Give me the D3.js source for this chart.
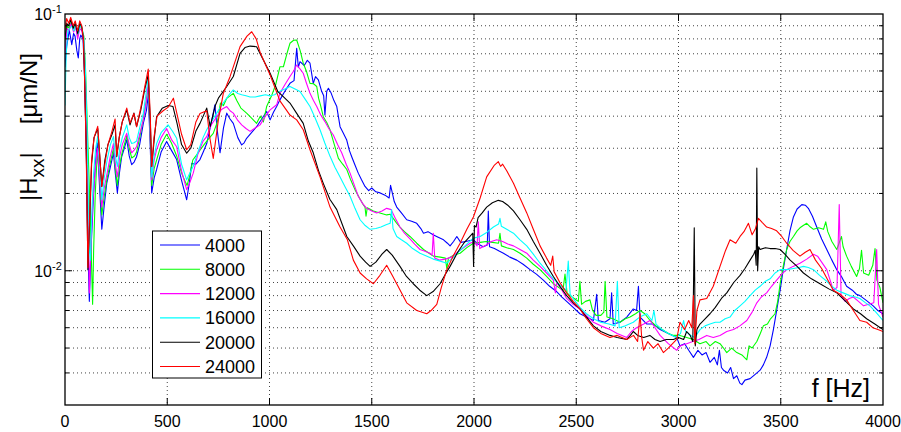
<!DOCTYPE html>
<html>
<head>
<meta charset="utf-8">
<script src="https://cdnjs.cloudflare.com/ajax/libs/d3/7.8.5/d3.min.js"></script>
<style>
  html, body { margin: 0; padding: 0; background: #fff; }
  svg text { font-family: "Liberation Sans", Arial, Helvetica, sans-serif; fill: #000; }
</style>
</head>
<body>
<div id="chart"></div>
<script>
// FRF magnitude |Hxx| vs frequency, one curve per spindle speed
// values are [frequency Hz, |Hxx| in 1e-3 um/N]

const seriesNames = ["4000", "8000", "12000", "16000", "20000", "24000"];
const seriesColors = ["#0000ff", "#00ff00", "#ff00ff", "#00ffff", "#000000", "#ff0000"];

const xTicks = [0, 500, 1000, 1500, 2000, 2500, 3000, 3500, 4000];
const yDecades = [{ v: 0.1, exp: "-1" }, { v: 0.01, exp: "-2" }];

const h4000 = [[0,62],[8,74.6],[21,86.6],[33,76],[42,84],[49,82],[58,72],[65,67.4],[72,80],[77,82.8],[88,80],[95,60],[104,30],[112,12],[119,7.6],[127,12],[139,19.5],[150,27],[158,31.5],[168,22],[180,14.5],[192,18],[204,21.9],[220,25],[237,28.8],[246,24],[256,20.1],[266,24],[277,27.8],[290,30],[302,32.4],[314,28],[326,25.9],[338,26.5],[350,27.8],[365,31],[383,37.5],[398,42],[407,48],[416,32],[424,20.1],[436,23],[448,24.8],[470,29],[497,31.9],[520,29.5],[546,27.1],[570,22.5],[595,18.9],[608,22],[620,26.2],[640,26],[660,27.1],[676,29],[693,31.3],[713,37],[733,44.3],[745,35],[758,28.8],[775,36],[791,41.1],[807,39],[823,37.5],[845,33],[864,30.9],[876,31.5],[888,32.8],[912,34.5],[937,36.4],[962,39],[986,41.7],[1003,38.7],[1020,41.5],[1035,43.6],[1051,46.3],[1075,50],[1100,53.7],[1120,55],[1133,73.5],[1141,62],[1149,65.2],[1170,63],[1185,66],[1198,64.3],[1214,53.7],[1225,57],[1239,55.4],[1255,50],[1265,48],[1271,40.4],[1280,50],[1288,51.4],[1300,49.5],[1315,46],[1329,43.6],[1345,36.4],[1360,34.5],[1377,32.4],[1390,29.5],[1402,27.8],[1418,25.8],[1434,24.0],[1450,22.6],[1467,21.3],[1485,20.5],[1500,21],[1520,20.3],[1541,20.1],[1565,19.7],[1585,19.2],[1592,21.5],[1598,20.5],[1610,18.6],[1622,17.7],[1645,16.8],[1671,15.8],[1695,15.6],[1720,15.3],[1740,14.6],[1753,14.0],[1775,14.2],[1800,13.8],[1825,13.5],[1851,13.2],[1870,12.8],[1883,12.5],[1900,13.0],[1916,13.6],[1935,12.9],[1960,13.0],[1997,13.2],[2020,12.7],[2045,12.4],[2065,12.6],[2070,17.1],[2076,12.4],[2100,12.2],[2125,11.9],[2144,11.7],[2175,11.3],[2209,11.0],[2240,10.6],[2274,10.1],[2305,9.7],[2339,9.2],[2370,8.7],[2404,8.3],[2430,7.9],[2453,7.6],[2485,7.2],[2518,6.8],[2550,6.6],[2584,6.4],[2600,8.1],[2608,6.4],[2640,6.3],[2665,6.5],[2673,8.2],[2681,6.2],[2714,6.3],[2747,6.6],[2779,7.1],[2795,7.0],[2804,8.7],[2812,6.6],[2845,6.2],[2877,6.2],[2910,5.9],[2950,5.7],[2991,5.5],[3007,5.1],[3030,5.2],[3050,4.9],[3073,4.6],[3095,4.9],[3115,4.7],[3135,4.8],[3154,4.4],[3175,4.6],[3190,4.3],[3200,4.9],[3210,4.2],[3220,4.1],[3240,4.0],[3255,4.2],[3269,3.8],[3285,3.9],[3300,3.65],[3310,3.6],[3325,3.75],[3350,3.8],[3375,3.95],[3399,4.1],[3415,4.3],[3431,4.6],[3448,5.1],[3464,5.9],[3480,7.0],[3497,8.4],[3513,10.2],[3529,12.1],[3545,14.3],[3562,16.2],[3580,17.4],[3603,18.1],[3620,18.0],[3635,17.5],[3655,16.3],[3676,14.8],[3700,13.3],[3725,12.1],[3750,11.0],[3774,10.1],[3800,9.4],[3822,8.7],[3850,8.4],[3870,8.1],[3887,8.0],[3915,7.7],[3952,7.3],[3975,7.0],[4000,6.8]];

const h8000 = [[0,75],[10,90],[20,88],[30,93],[42,86],[52,90],[62,82],[72,90],[82,88],[92,82],[100,62],[110,35],[120,20],[128,12],[135,7.4],[140,12],[148,20],[158,29],[168,24],[180,16.5],[192,19.5],[204,22.5],[220,26],[237,30],[246,25],[256,21.5],[268,26],[280,29],[302,33.5],[314,30],[326,27.5],[340,28],[350,29],[365,33],[383,39],[398,46],[407,52],[416,35],[424,21.5],[436,25],[448,27],[470,31],[497,34],[520,31.5],[546,28],[570,24],[587,22.3],[597,21.5],[610,23.5],[625,27],[640,28],[660,29.5],[680,31],[700,32.5],[725,34.3],[745,38],[760,45],[775,44],[791,47],[807,48],[823,49.1],[840,46],[860,43],[888,41.1],[910,39.5],[937,37.5],[955,40],[970,38],[986,43.6],[1010,48],[1030,53],[1051,62.3],[1068,62.3],[1085,70],[1100,76.9],[1118,79],[1133,79.2],[1150,72],[1165,64.3],[1180,60],[1198,53.7],[1215,53.5],[1231,52.2],[1240,47],[1250,44],[1263,39.8],[1280,37.8],[1296,35.4],[1317,31],[1337,27.4],[1358,26],[1378,24.8],[1398,22.5],[1418,20.7],[1440,19.2],[1460,18],[1467,17.7],[1472,16.3],[1478,17.6],[1490,17.4],[1508,17.1],[1540,16.8],[1573,16.5],[1590,16.6],[1605,16.0],[1620,15.4],[1638,14.8],[1660,14.2],[1687,13.6],[1720,12.8],[1753,12.1],[1780,11.7],[1801,11.4],[1835,11.3],[1860,11.2],[1867,10.2],[1875,11.2],[1900,11.5],[1932,11.7],[1965,12.3],[1997,12.8],[2030,12.9],[2060,13.0],[2090,12.9],[2120,12.8],[2127,14.0],[2134,12.5],[2160,12.3],[2193,12.1],[2225,11.7],[2258,11.2],[2290,10.6],[2323,10.1],[2355,9.5],[2388,8.9],[2415,8.6],[2435,8.4],[2445,9.7],[2455,8.2],[2469,8.0],[2490,7.8],[2510,7.6],[2518,9.1],[2526,7.4],[2545,7.6],[2567,7.7],[2580,7.0],[2597,6.7],[2620,6.7],[2635,6.9],[2641,9.1],[2650,6.6],[2680,6.5],[2714,6.3],[2740,6.5],[2763,6.6],[2790,6.8],[2812,7.0],[2835,6.8],[2861,6.4],[2890,6.1],[2920,5.9],[2950,5.7],[2975,5.6],[3007,5.6],[3040,5.5],[3073,5.4],[3105,5.2],[3135,5.3],[3154,5.1],[3180,5.3],[3203,5.2],[3220,5.0],[3236,4.8],[3260,5.0],[3285,4.8],[3310,4.7],[3334,4.5],[3345,5.1],[3360,5.0],[3383,5.3],[3400,5.7],[3415,6.1],[3435,6.2],[3450,6.5],[3472,6.8],[3485,7.6],[3497,8.9],[3513,10.5],[3529,12.1],[3545,13.0],[3562,13.6],[3580,14.3],[3594,14.7],[3610,15.0],[3627,15.3],[3645,14.8],[3660,14.5],[3685,14.7],[3709,14.5],[3720,15.5],[3730,14.2],[3750,13.0],[3774,12.1],[3785,12.8],[3797,13.6],[3805,12.4],[3822,11.4],[3845,10.4],[3871,9.5],[3885,10.2],[3895,12.0],[3905,9.8],[3930,9.6],[3950,10.5],[3961,12.2],[3970,9.2],[3985,8.6],[4000,7.5]];

const h12000 = [[0,70],[10,88],[20,86],[30,92],[42,85],[52,89],[62,80],[72,88],[82,86],[92,78],[100,55],[108,30],[115,14],[119,8.2],[126,12],[135,18],[148,25],[158,30],[168,24],[180,17.7],[192,21],[206,24],[222,28],[237,31.3],[246,26],[256,23.2],[268,28],[280,31],[302,34.3],[314,31],[326,28.8],[338,29.5],[350,30.4],[365,34],[383,38.7],[398,46],[407,53.7],[416,35],[424,22.6],[436,27],[448,29.6],[470,33],[497,35.8],[520,32.5],[546,30.4],[570,24.5],[595,20.7],[610,22],[627,24],[650,28.5],[675,32],[693,33.3],[715,37],[742,39.8],[765,42.5],[791,43.6],[807,42],[823,41.1],[845,38.5],[864,37],[885,35.8],[905,34.9],[930,36],[954,37],[980,40],[1003,42.3],[1035,44.3],[1051,49.1],[1075,53],[1100,57.1],[1118,60],[1133,63.3],[1150,61],[1165,58.8],[1180,54],[1198,49.1],[1215,46],[1231,43.6],[1250,40.5],[1271,38.1],[1290,35.8],[1312,33.8],[1333,31],[1353,28.8],[1375,26],[1394,24.0],[1415,21.5],[1434,19.5],[1455,18.3],[1475,17.5],[1500,17.1],[1524,16.8],[1550,17.1],[1573,17.5],[1595,17.3],[1615,16],[1638,14.8],[1660,14],[1687,13.3],[1710,12.7],[1736,12.1],[1760,11.9],[1785,11.7],[1795,11.5],[1801,14.0],[1808,11.2],[1830,11.0],[1860,11.1],[1890,11.3],[1920,11.8],[1950,12.3],[1981,12.8],[2000,13.0],[2015,12.5],[2021,15.5],[2028,12.2],[2060,12.6],[2085,13.0],[2111,13.2],[2140,13.0],[2165,12.7],[2193,12.5],[2225,12.1],[2258,11.7],[2290,11.0],[2323,10.4],[2355,9.8],[2388,9.2],[2398,8.2],[2405,9.0],[2430,8.4],[2453,7.8],[2485,7.4],[2518,7.1],[2550,6.7],[2584,6.3],[2620,6.1],[2665,5.9],[2700,5.7],[2747,5.5],[2770,5.8],[2795,6.0],[2830,6.2],[2861,6.4],[2885,6.0],[2910,5.6],[2950,5.2],[2991,4.9],[3010,5.1],[3040,5.2],[3070,5.3],[3100,5.4],[3138,5.6],[3170,5.5],[3203,5.6],[3236,5.8],[3269,5.9],[3300,6.1],[3334,6.4],[3360,6.9],[3383,7.5],[3405,7.9],[3431,8.2],[3455,8.7],[3480,9.2],[3505,9.7],[3529,10.1],[3560,10.4],[3594,10.7],[3627,11.1],[3660,11.6],[3680,11.4],[3700,10.8],[3725,10.1],[3745,9.0],[3757,8.4],[3775,8.6],[3786,18.1],[3795,8.0],[3815,7.6],[3835,7.8],[3855,7.9],[3880,7.6],[3905,7.3],[3930,7.4],[3955,7.5],[3969,12.1],[3978,7.4],[4000,6.6]];

const h16000 = [[0,44],[6,70],[14,86],[24,88],[34,90],[44,86],[54,91],[64,84],[74,90],[84,88],[92,80],[100,60],[108,35],[114,20],[119,12],[124,11],[130,16],[140,24],[150,30],[160,33.3],[170,25.5],[180,18.9],[192,23],[206,27],[222,31],[237,33.3],[246,28],[256,25.5],[268,30],[280,33],[302,37],[314,33],[326,31.3],[338,31.5],[350,32],[365,36],[383,41.1],[398,50],[407,57.1],[416,38],[424,23.2],[436,28],[448,31.3],[470,34.5],[504,37],[525,35],[546,32.8],[570,26],[595,22.6],[610,24],[627,25.5],[650,29],[675,33],[693,35.4],[715,38],[742,41.1],[765,44],[791,47],[807,49],[823,50.6],[845,49],[864,48.5],[885,48],[905,47.5],[930,47.5],[954,48],[980,48.5],[1003,48],[1025,48.5],[1051,50],[1075,51],[1100,52.2],[1125,51],[1149,49.9],[1175,46.5],[1198,43.6],[1222,39.5],[1247,35.4],[1270,31.5],[1296,27.9],[1320,25.3],[1345,23.2],[1370,21.2],[1394,19.5],[1418,17.5],[1443,15.8],[1468,15.0],[1492,14.5],[1520,14.6],[1545,14.8],[1570,15.1],[1590,15.3],[1597,17.3],[1604,14.6],[1622,13.6],[1645,13.2],[1671,12.8],[1700,12.2],[1736,11.7],[1770,11.4],[1801,11.1],[1835,10.9],[1867,10.7],[1900,11.3],[1932,12.0],[1965,12.7],[1997,13.4],[2030,13.6],[2062,14.1],[2095,14.8],[2120,15.2],[2127,16.0],[2134,14.9],[2160,14.5],[2193,14.0],[2225,13.2],[2258,12.5],[2290,11.6],[2323,10.7],[2355,10.0],[2388,9.3],[2420,8.8],[2450,8.4],[2461,10.9],[2470,8.1],[2490,7.7],[2518,7.2],[2550,6.8],[2584,6.5],[2620,6.3],[2660,6.2],[2690,6.1],[2701,9.1],[2710,6.0],[2740,6.1],[2779,6.3],[2810,6.6],[2845,6.8],[2870,6.4],[2880,7.0],[2890,6.2],[2920,5.9],[2950,5.7],[2991,5.5],[3010,5.7],[3025,6.4],[3035,5.8],[3060,5.6],[3080,5.5],[3105,5.9],[3130,6.1],[3154,6.2],[3180,6.3],[3203,6.3],[3228,6.5],[3252,6.6],[3275,7.0],[3301,7.3],[3325,7.6],[3350,8.0],[3375,8.4],[3399,8.7],[3425,9.1],[3448,9.3],[3472,9.8],[3497,10.1],[3530,10.1],[3562,10.2],[3590,10.3],[3611,10.4],[3635,10.3],[3660,10.1],[3690,9.6],[3725,9.1],[3750,8.7],[3774,8.4],[3805,8.2],[3838,8.0],[3865,7.9],[3887,7.8],[3915,7.5],[3936,7.3],[3965,6.9],[4000,6.4]];

const h20000 = [[0,80],[8,92],[18,90],[28,95],[40,88],[50,92],[62,84],[72,92],[82,89],[90,80],[96,56],[104,30],[112,10.1],[120,15],[130,26],[142,33],[160,35.8],[170,28],[180,21.3],[195,27],[210,31],[230,34],[245,37],[253,27.8],[265,33],[280,38],[302,42.3],[318,37],[337,41.1],[350,36.4],[370,42],[390,51],[407,58],[417,38],[424,25.5],[437,33],[448,39.8],[475,42.9],[505,44],[528,43.6],[548,37.5],[570,31],[595,28.7],[615,30],[640,35],[660,37.5],[693,43],[710,36.4],[735,44],[750,47],[791,52.2],[823,57.1],[856,70.3],[880,74],[905,75],[937,74.6],[970,66.2],[1003,58.8],[1040,50],[1075,47],[1100,45],[1133,41],[1165,37.5],[1190,32],[1214,28.8],[1240,24.5],[1263,21.9],[1295,19],[1329,17.3],[1355,15.2],[1378,13.6],[1410,12.5],[1443,11.4],[1470,10.8],[1492,10.4],[1520,10.8],[1550,11.6],[1573,12.1],[1600,11.5],[1638,10.4],[1670,9.5],[1703,8.9],[1735,8.4],[1769,8.0],[1800,8.3],[1834,8.9],[1860,9.7],[1883,10.4],[1920,11.8],[1950,12.8],[1980,13.6],[1994,14.0],[1998,10.4],[2002,15.0],[2010,14.8],[2020,16.1],[2040,16.8],[2062,17.7],[2090,18.4],[2119,18.8],[2140,18.6],[2165,18.0],[2193,17.1],[2225,15.8],[2258,14.5],[2290,13.0],[2323,11.7],[2355,10.5],[2388,9.5],[2420,8.7],[2453,8.0],[2485,7.5],[2518,7.1],[2550,6.6],[2584,6.1],[2620,5.8],[2665,5.6],[2700,5.5],[2747,5.4],[2765,5.6],[2779,5.8],[2800,5.6],[2830,5.5],[2860,5.6],[2885,5.4],[2910,5.3],[2940,5.4],[2975,5.4],[3000,5.5],[3025,5.4],[3040,5.8],[3057,5.6],[3070,5.3],[3077,14.7],[3082,5.1],[3090,5.9],[3105,6.2],[3130,6.5],[3154,6.8],[3180,7.2],[3210,7.8],[3236,8.2],[3270,9.0],[3301,9.6],[3325,10.2],[3350,11.0],[3368,11.6],[3375,12.0],[3380,10.5],[3383,25.1],[3387,10.0],[3392,12.4],[3399,12.1],[3425,12.3],[3448,12.2],[3472,12.2],[3497,12.1],[3520,11.6],[3546,11.0],[3580,10.4],[3611,9.8],[3650,9.3],[3692,8.9],[3735,8.5],[3774,8.2],[3810,7.7],[3855,7.1],[3890,6.8],[3920,6.5],[3960,6.2],[4000,5.9]];

const h24000 = [[0,87],[8,96],[18,92],[28,97],[40,90],[50,94],[62,86],[72,94],[82,90],[90,80],[96,55],[104,28],[112,10.3],[120,16],[130,27],[142,33],[160,36.5],[170,28],[180,21.3],[195,26],[210,31],[230,35],[245,39],[253,28],[265,33],[280,38],[302,43],[318,37.6],[337,41],[350,36.4],[370,43],[390,52],[407,61],[417,40],[424,25.5],[435,33],[450,40],[480,42],[505,43.4],[530,47],[550,40],[570,34],[595,29.6],[615,31],[640,38],[660,41],[693,42],[708,33],[725,27.4],[750,38.7],[774,49],[807,57],[856,74.6],[890,82],[913,85.3],[935,80],[954,71],[986,62],[1003,57.9],[1051,45.9],[1100,40.4],[1133,38.7],[1165,35.4],[1198,29.6],[1247,23.2],[1296,17.7],[1345,14.8],[1381,13.2],[1410,11],[1443,9.8],[1475,9.3],[1508,8.9],[1540,9.6],[1573,10.5],[1600,9.6],[1622,8.9],[1671,7.5],[1720,7.0],[1769,6.8],[1790,7.0],[1818,7.4],[1840,8.6],[1867,10.1],[1900,11.5],[1932,12.8],[1965,14.5],[1997,16.2],[2030,19.2],[2062,23.2],[2100,25.8],[2119,26.6],[2130,25.5],[2140,26.0],[2160,24.5],[2193,21.9],[2225,19.2],[2258,16.8],[2290,14.5],[2323,12.5],[2355,11.2],[2375,10.5],[2385,11.4],[2392,9.9],[2420,9.0],[2453,8.2],[2485,7.6],[2518,7.1],[2550,6.5],[2584,6.0],[2620,5.7],[2665,5.5],[2700,5.6],[2747,5.4],[2780,5.6],[2800,5.3],[2812,6.8],[2820,5.5],[2829,4.9],[2850,5.3],[2877,5.0],[2900,5.2],[2926,4.8],[2950,5.0],[2991,5.4],[3007,6.3],[3030,5.9],[3050,6.4],[3065,6.0],[3073,8.0],[3080,5.2],[3090,7.0],[3105,7.7],[3138,7.8],[3170,8.7],[3203,10.4],[3230,12.0],[3252,13.2],[3280,12.8],[3301,13.6],[3320,14.2],[3342,15.3],[3360,13.8],[3375,14.5],[3391,16.0],[3410,15.4],[3431,14.8],[3455,14.6],[3480,14.3],[3505,13.6],[3529,12.8],[3560,12.0],[3594,11.4],[3620,11.8],[3643,12.1],[3670,11.0],[3700,10.2],[3730,9.2],[3757,8.4],[3790,8.1],[3822,7.7],[3855,7.0],[3887,6.4],[3920,6.3],[3950,6.0],[3975,5.9],[4000,5.8]];

const allSeries = [h4000, h8000, h12000, h16000, h20000, h24000];

const width = 901, height = 432;
const plot = { left: 65, right: 883, top: 14, bottom: 405 };

const svg = d3.select("#chart").append("svg")
    .attr("width", width)
    .attr("height", height);

const x = d3.scaleLinear().domain([0, 4000]).range([plot.left, plot.right]);
const y = d3.scaleLog().domain([0.003, 0.1]).range([plot.bottom, plot.top]);

svg.append("defs").append("clipPath").attr("id", "clip")
  .append("rect")
    .attr("x", plot.left).attr("y", plot.top)
    .attr("width", plot.right - plot.left).attr("height", plot.bottom - plot.top);

// grid (dotted, MATLAB style)
const grid = svg.append("g");
const yGrid = y.ticks().filter(v => v > 0.0031 && v < 0.099);
grid.selectAll(".hg").data(yGrid).join("line")
    .attr("x1", plot.left).attr("x2", plot.right)
    .attr("y1", d => y(d)).attr("y2", d => y(d))
    .attr("stroke", "#444").attr("stroke-width", 1)
    .attr("stroke-dasharray", "1,3");
grid.selectAll(".vg").data(xTicks.slice(1, -1)).join("line")
    .attr("x1", d => x(d)).attr("x2", d => x(d))
    .attr("y1", plot.top).attr("y2", plot.bottom)
    .attr("stroke", "#444").attr("stroke-width", 1)
    .attr("stroke-dasharray", "1,3");

// curves
const line = d3.line()
    .x(d => x(d[0]))
    .y(d => y(d[1] * 1e-3));

svg.append("g").attr("clip-path", "url(#clip)")
  .selectAll("path").data(allSeries).join("path")
    .attr("d", line)
    .attr("fill", "none")
    .attr("stroke", (d, i) => seriesColors[i])
    .attr("stroke-width", 1.1)
    .attr("stroke-linejoin", "round");

// axes box + inward ticks
const axes = svg.append("g");
axes.append("rect")
    .attr("x", plot.left).attr("y", plot.top)
    .attr("width", plot.right - plot.left).attr("height", plot.bottom - plot.top)
    .attr("fill", "none").attr("stroke", "#000").attr("stroke-width", 1.3);

xTicks.slice(1, -1).forEach(t => {
  axes.append("line").attr("x1", x(t)).attr("x2", x(t))
      .attr("y1", plot.bottom).attr("y2", plot.bottom - 7).attr("stroke", "#000");
  axes.append("line").attr("x1", x(t)).attr("x2", x(t))
      .attr("y1", plot.top).attr("y2", plot.top + 7).attr("stroke", "#000");
});
yGrid.forEach(v => {
  const len = Math.abs(Math.log10(v) - Math.round(Math.log10(v))) < 1e-6 ? 7 : 4;
  axes.append("line").attr("x1", plot.left).attr("x2", plot.left + len)
      .attr("y1", y(v)).attr("y2", y(v)).attr("stroke", "#000");
  axes.append("line").attr("x1", plot.right).attr("x2", plot.right - len)
      .attr("y1", y(v)).attr("y2", y(v)).attr("stroke", "#000");
});

// tick labels
axes.selectAll(".xl").data(xTicks).join("text")
    .attr("x", d => x(d))
    .attr("y", 427)
    .attr("text-anchor", "middle")
    .style("font-size", "16px")
    .text(d => d);

yDecades.forEach(d => {
  axes.append("text")
      .attr("x", 52).attr("y", y(d.v) + 6)
      .attr("text-anchor", "end")
      .style("font-size", "16px")
      .text("10");
  axes.append("text")
      .attr("x", 52).attr("y", y(d.v) - 1)
      .style("font-size", "11px")
      .text(d.exp);
});

// y label (rotated)
const yl = svg.append("g").attr("transform", "rotate(-90)");
const t1 = yl.append("text")
    .attr("x", -201).attr("y", 37)
    .style("font-size", "24px");
t1.append("tspan").text("|H");
t1.append("tspan").attr("dy", 7).style("font-size", "19px").text("xx");
t1.append("tspan").attr("dy", -7).text("|");
yl.append("text")
    .attr("x", -53).attr("y", 37)
    .attr("text-anchor", "end")
    .style("font-size", "24px")
    .text("[μm/N]");

// x label inside plot
svg.append("text")
    .attr("x", 870).attr("y", 397)
    .attr("text-anchor", "end")
    .style("font-size", "25px")
    .text("f [Hz]");

// legend
const legend = svg.append("g");
legend.append("rect")
    .attr("x", 152.5).attr("y", 231)
    .attr("width", 109).attr("height", 147)
    .attr("fill", "#fff").attr("stroke", "#000").attr("stroke-width", 1);
seriesNames.forEach((name, i) => {
  const ly = 245 + i * 24.3;
  legend.append("line")
      .attr("x1", 160).attr("x2", 200)
      .attr("y1", ly).attr("y2", ly)
      .attr("stroke", seriesColors[i]).attr("stroke-width", 1.1);
  legend.append("text")
      .attr("x", 205).attr("y", ly + 6.5)
      .style("font-size", "18px")
      .text(name);
});
</script>
</body>
</html>
